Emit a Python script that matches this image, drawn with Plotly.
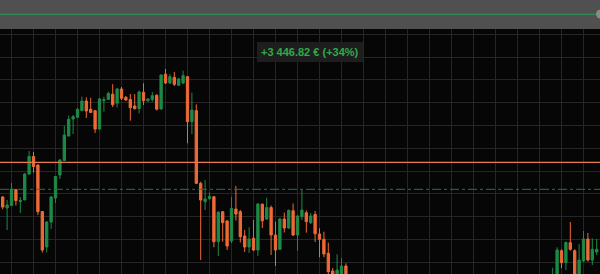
import plotly.graph_objects as go

# Candle positions (session index); the stretch 79-124 traded below the visible band
idx_a = list(range(0, 79))
idx_b = list(range(125, 136))
sessions = idx_a + idx_b

opens = [30.30, 29.20, 29.45, 31.05, 29.85, 30.00, 32.60, 34.35, 33.50, 28.85,
         25.30, 27.80, 30.20, 32.50, 33.95, 36.40, 38.10, 38.27, 38.93, 39.90,
         39.07, 38.93, 37.10, 39.93, 40.05, 40.58, 39.68, 41.10, 40.27, 40.05,
         39.40, 39.15, 40.77, 39.93, 40.05, 40.48, 39.10, 42.58, 41.70, 42.27,
         41.47, 41.70, 42.33, 37.83, 38.93, 31.67, 29.83, 30.13, 30.33, 25.83,
         28.83, 27.90, 25.90, 29.10, 28.83, 26.40, 25.30, 26.17, 25.00, 29.58,
         28.10, 29.25, 26.50, 25.07, 28.10, 27.20, 28.93, 26.50, 28.33, 28.73,
         27.73, 28.55, 26.60, 26.07, 24.67, 22.90, 22.40, 22.40, 23.40,
         21.50, 22.00, 24.93, 23.73, 25.73, 24.93, 21.80, 23.90, 26.10, 24.00, 24.80]
highs = [30.40, 30.00, 31.70, 31.10, 30.30, 32.70, 34.90, 34.80, 33.55, 28.90,
         27.90, 30.40, 32.40, 34.10, 37.40, 38.45, 38.50, 39.20, 40.33, 40.27,
         40.23, 39.00, 40.20, 40.33, 40.83, 41.58, 41.20, 41.30, 40.40, 40.60,
         40.60, 40.95, 41.67, 40.20, 40.80, 40.55, 42.55, 43.10, 42.60, 42.80,
         42.20, 42.93, 42.40, 40.73, 39.57, 31.83, 32.00, 30.75, 30.40, 28.90,
         28.90, 28.00, 30.30, 31.40, 29.00, 27.00, 27.27, 28.00, 29.70, 29.65,
         30.23, 29.45, 27.83, 28.20, 28.75, 29.05, 29.65, 28.50, 31.00, 28.95,
         28.70, 28.90, 27.17, 26.83, 25.73, 23.20, 24.57, 24.17, 23.67,
         23.23, 25.27, 25.07, 25.85, 27.80, 25.07, 25.60, 26.90, 26.70, 26.17, 26.10]
lows = [29.07, 27.00, 29.40, 29.45, 28.70, 30.00, 32.50, 32.75, 28.50, 24.75,
        24.75, 27.10, 29.70, 32.10, 33.90, 36.35, 36.60, 38.20, 38.90, 38.20,
        38.70, 36.70, 37.05, 38.83, 40.00, 39.30, 39.25, 40.00, 39.90, 37.93,
        39.05, 38.67, 39.50, 39.80, 39.83, 38.95, 39.05, 41.60, 41.60, 41.40,
        41.40, 41.60, 35.67, 36.60, 31.60, 24.00, 29.00, 30.05, 25.27, 24.40,
        25.83, 25.00, 25.70, 27.95, 25.75, 24.80, 24.70, 24.90, 24.40, 27.20,
        28.00, 24.50, 23.40, 25.00, 26.75, 27.10, 26.40, 24.93, 28.00, 26.73,
        27.60, 25.80, 24.27, 24.27, 22.55, 22.30, 22.20, 22.20, 22.00,
        21.00, 21.80, 23.20, 23.00, 24.93, 21.70, 21.60, 23.80, 23.85, 23.50, 24.50]
closes = [29.30, 29.50, 31.10, 29.95, 29.95, 32.60, 34.35, 33.35, 28.83, 25.00,
          27.80, 30.30, 32.35, 34.00, 36.50, 38.07, 38.33, 39.07, 39.90, 38.90,
          38.75, 37.10, 40.10, 40.03, 40.65, 39.53, 41.10, 40.17, 40.00, 39.23,
          39.13, 40.80, 39.93, 40.10, 40.43, 39.08, 42.50, 41.70, 42.33, 41.57,
          42.10, 42.43, 37.83, 39.00, 31.67, 30.00, 30.10, 30.37, 25.83, 28.77,
          27.73, 25.40, 29.15, 28.60, 26.33, 25.30, 26.10, 25.00, 29.60, 27.92,
          29.25, 26.50, 25.00, 28.10, 27.20, 28.97, 26.50, 28.40, 29.00, 27.83,
          28.40, 26.63, 26.07, 24.60, 22.83, 22.50, 23.00, 23.40, 22.20,
          22.20, 25.00, 23.73, 25.75, 25.07, 22.00, 24.00, 26.10, 24.00, 25.07, 25.07]

entry_level = 33.77      # reference price line
target_level = 31.07     # dashed level
pnl_label = "+3 446.82 € (+34%)"

GREEN = "#1d8a47"
ORANGE = "#ef6a36"
BG = "#060606"
GRID = "#262626"

fig = go.Figure()
fig.add_trace(go.Candlestick(
    x=sessions, open=opens, high=highs, low=lows, close=closes,
    increasing=dict(line=dict(color=GREEN, width=1), fillcolor=GREEN),
    decreasing=dict(line=dict(color=ORANGE, width=1), fillcolor=ORANGE),
    whiskerwidth=0, showlegend=False, hoverinfo="skip",
))

main_top = 245 / 274

fig.add_hline(y=entry_level, line=dict(color="#e87a55", width=1.2))
fig.add_hline(y=target_level, line=dict(color="#2c7447", width=1, dash="dashdot"))

# navigator strip above the price pane
fig.add_shape(type="rect", xref="paper", yref="paper", x0=0, x1=1, y0=main_top, y1=1,
              fillcolor="#505050", line=dict(width=0), layer="above")
fig.add_shape(type="line", xref="paper", yref="paper", x0=0, x1=1,
              y0=1 - 14.3 / 274, y1=1 - 14.3 / 274,
              line=dict(color="#2f8a55", width=1.2), layer="above")
fig.add_shape(type="circle", xref="paper", yref="paper",
              x0=596 / 600, x1=605 / 600, y0=1 - 18.5 / 274, y1=1 - 9.5 / 274,
              fillcolor="#8a8a8a", line=dict(width=0), layer="above")

fig.add_annotation(
    x=310 / 600, y=1 - 42 / 274, xref="paper", yref="paper",
    text=pnl_label, showarrow=False,
    font=dict(family="Liberation Sans, Arial, sans-serif", size=11, color="#2eaa4a", weight="bold"),
    bgcolor="#1e1e1e", borderpad=3, bordercolor="#1e1e1e",
)

fig.update_layout(
    width=600, height=274,
    margin=dict(l=0, r=0, t=0, b=0),
    paper_bgcolor=BG, plot_bgcolor=BG,
    xaxis=dict(range=[-0.614, 135.75], showgrid=True, gridcolor=GRID, gridwidth=1,
               tick0=2, dtick=5, showticklabels=False, zeroline=False,
               rangeslider=dict(visible=False), fixedrange=True),
    yaxis=dict(range=[22.6, 47.1], domain=[0, main_top], showgrid=True,
               gridcolor=GRID, gridwidth=1, tick0=23.77, dtick=2.279,
               showticklabels=False, zeroline=False, fixedrange=True),
    boxgap=0.25,
)

fig.write_html("out.html")
